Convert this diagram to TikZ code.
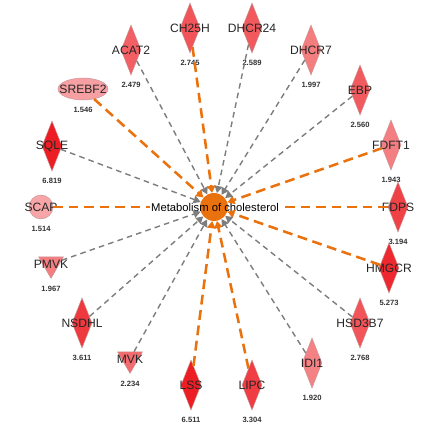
\documentclass[tikz,border=0pt]{standalone}
\usepackage{fontspec}
\setmainfont{Liberation Sans}
\usetikzlibrary{shapes.geometric,arrows.meta}

\definecolor{fcred}{RGB}{236,30,36}
\definecolor{ipaorange}{RGB}{233,113,14}
\definecolor{relgray}{RGB}{125,125,125}

\tikzstyle{gene}=[draw=fcred!55!black!45, line width=0.3pt, inner sep=0pt]
\tikzstyle{genediamond}=[gene, diamond, minimum width=14.2pt, minimum height=35.6pt]
\tikzstyle{genetri}=[gene, regular polygon, regular polygon sides=3, shape border rotate=180, minimum size=20.5pt]
\tikzstyle{genelabel}=[font=\fontsize{8.6}{9}\selectfont, inner sep=0pt, text=black!85]
\tikzstyle{foldval}=[font=\bfseries\fontsize{5.4}{6}\selectfont, inner sep=1pt, yshift=-4pt, text=black!80]
\tikzstyle{actedge}=[ipaorange, line width=1.8pt, dash pattern=on 7pt off 4pt, -{Triangle[length=5pt,width=6pt]}]
\tikzstyle{reledge}=[relgray, line width=1pt, dash pattern=on 4pt off 3pt, -{Triangle[length=5pt,width=5.5pt]}]

\begin{document}
\begin{tikzpicture}[x=0.025cm, y=-0.025cm]
  \useasboundingbox (0,0) rectangle (421,445);

  % the hub
  \node[circle, fill=ipaorange, minimum size=19.9pt, inner sep=0pt] (hub) at (214,207) {};
  \node[font=\fontsize{8}{9}\selectfont, inner sep=1pt] (metab) at (215,207) {Metabolism of cholesterol};

  % genes, name/label/x/y/shade/fold change
  \foreach \n/\lab/\x/\y/\p/\v in {%
      ch25h/CH25H/190/28/76/2.745, dhcr24/DHCR24/252/28/74/2.589,
      acat2/ACAT2/131/50/71/2.479, dhcr7/DHCR7/311/50/58/1.997,
      ebp/EBP/360/90/73/2.560, sqle/SQLE/52/146/100/6.819,
      fdft1/FDFT1/391/145/57/1.943, fdps/FDPS/398/207/84/3.194,
      hmgcr/HMGCR/389/268/95/5.273, nsdhl/NSDHL/82/323/88/3.611,
      hsd3b7/HSD3B7/360/323/76/2.768, idi1/IDI1/312/363/56/1.920,
      lss/LSS/191/385/100/6.511, lipc/LIPC/252/385/86/3.304} {%
    \node[genediamond, fill=fcred!\p!white,
          label={[genelabel]center:\lab}, label={[foldval]below:\v}] (\n) at (\x,\y) {};
  }
  \node[gene, ellipse, minimum width=35.6pt, minimum height=15.6pt, fill=fcred!42!white,
        label={[genelabel]center:SREBF2}, label={[foldval]below:1.546}] (srebf2) at (83,89) {};
  \node[gene, circle, minimum size=17pt, fill=fcred!40!white,
        label={[genelabel]center:SCAP}, label={[foldval]below:1.514}] (scap) at (41,207) {};
  \node[genetri, fill=fcred!58!white,
        label={[genelabel]center:PMVK}, label={[foldval]below:1.967}] (pmvk) at (51,264) {};
  \node[genetri, fill=fcred!66!white,
        label={[genelabel]center:MVK}, label={[foldval]below:2.234}] (mvk) at (130,359) {};

  % relations
  \foreach \g in {ch25h, srebf2, fdft1, hmgcr, lss, lipc}
    \draw[actedge] (\g) -- (hub);
  \draw[actedge, -] (scap) -- (metab);
  \draw[actedge, -] (fdps) -- (metab);
  \foreach \g in {acat2, dhcr24, dhcr7, ebp, sqle, pmvk, nsdhl, mvk, idi1, hsd3b7}
    \draw[reledge] (\g) -- (hub);
\end{tikzpicture}
\end{document}
